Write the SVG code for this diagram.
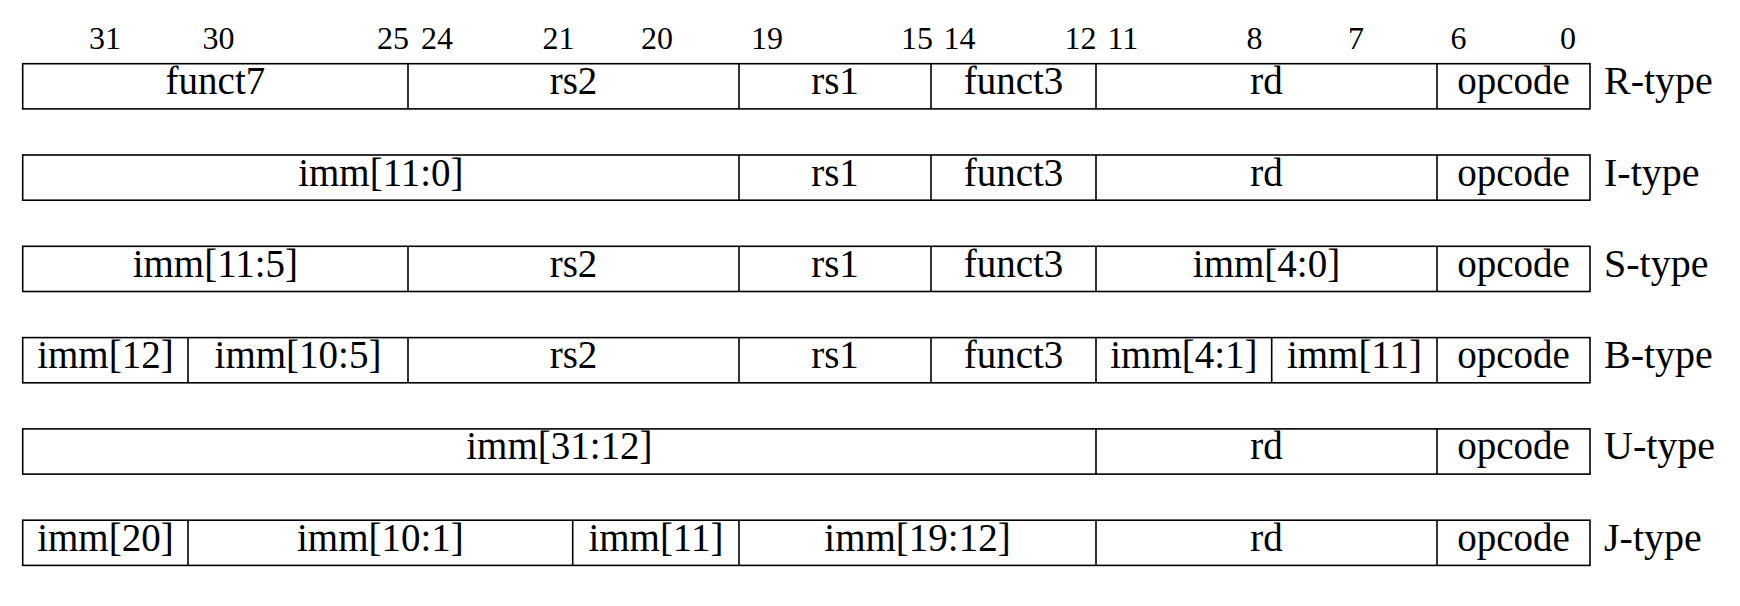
<svg xmlns="http://www.w3.org/2000/svg" width="1740" height="606" viewBox="0 0 1740 606" font-family="Liberation Serif, Times New Roman, serif">
<style>
  .box { fill: #ffffff; stroke: #000000; stroke-width: 1.6; }
  .div { stroke: #000000; stroke-width: 1.6; }
  .f { font-size: 39px; fill: #000000; text-anchor: middle; }
  .t { font-size: 40px; fill: #000000; text-anchor: start; }
  .b { font-size: 32px; fill: #000000; }
  .s { text-anchor: start; }
  .e { text-anchor: end; }
  .m { text-anchor: middle; }
</style>
<rect x="0" y="0" width="1740" height="606" fill="#ffffff"/>

<g id="bit-labels" font-family="Liberation Serif, serif">
  <text class="b m" x="105" y="49.3">31</text>
  <text class="b s" x="202.5" y="49.3">30</text>
  <text class="b e" x="409" y="49.3">25</text>
  <text class="b s" x="421" y="49.3">24</text>
  <text class="b e" x="574.5" y="49.3">21</text>
  <text class="b m" x="657" y="49.3">20</text>
  <text class="b s" x="751" y="49.3">19</text>
  <text class="b e" x="933" y="49.3">15</text>
  <text class="b s" x="943.5" y="49.3">14</text>
  <text class="b e" x="1096.5" y="49.3">12</text>
  <text class="b s" x="1107.5" y="49.3">11</text>
  <text class="b e" x="1262.5" y="49.3">8</text>
  <text class="b m" x="1356" y="49.3">7</text>
  <text class="b s" x="1450.5" y="49.3">6</text>
  <text class="b e" x="1576" y="49.3">0</text>
</g>

<g id="r-type" font-family="Liberation Serif, serif">
  <rect class="box" x="22.7" y="63.7" width="1567.3" height="45.2"/>
  <line class="div" x1="408" y1="63.7" x2="408" y2="108.9"/>
  <line class="div" x1="739" y1="63.7" x2="739" y2="108.9"/>
  <line class="div" x1="931" y1="63.7" x2="931" y2="108.9"/>
  <line class="div" x1="1096" y1="63.7" x2="1096" y2="108.9"/>
  <line class="div" x1="1437" y1="63.7" x2="1437" y2="108.9"/>
  <text class="f" x="215.4" y="94.2">funct7</text>
  <text class="f" x="573.5" y="94.2">rs2</text>
  <text class="f" x="835" y="94.2">rs1</text>
  <text class="f" x="1013.5" y="94.2">funct3</text>
  <text class="f" x="1266.5" y="94.2">rd</text>
  <text class="f" x="1513.5" y="94.2">opcode</text>
  <text class="t" x="1604" y="94.2">R-type</text>
</g>

<g id="i-type" font-family="Liberation Serif, serif">
  <rect class="box" x="22.7" y="155" width="1567.3" height="45.2"/>
  <line class="div" x1="739" y1="155" x2="739" y2="200.2"/>
  <line class="div" x1="931" y1="155" x2="931" y2="200.2"/>
  <line class="div" x1="1096" y1="155" x2="1096" y2="200.2"/>
  <line class="div" x1="1437" y1="155" x2="1437" y2="200.2"/>
  <text class="f" x="380.9" y="185.5">imm[11:0]</text>
  <text class="f" x="835" y="185.5">rs1</text>
  <text class="f" x="1013.5" y="185.5">funct3</text>
  <text class="f" x="1266.5" y="185.5">rd</text>
  <text class="f" x="1513.5" y="185.5">opcode</text>
  <text class="t" x="1604" y="185.5">I-type</text>
</g>

<g id="s-type" font-family="Liberation Serif, serif">
  <rect class="box" x="22.7" y="246.3" width="1567.3" height="45.2"/>
  <line class="div" x1="408" y1="246.3" x2="408" y2="291.5"/>
  <line class="div" x1="739" y1="246.3" x2="739" y2="291.5"/>
  <line class="div" x1="931" y1="246.3" x2="931" y2="291.5"/>
  <line class="div" x1="1096" y1="246.3" x2="1096" y2="291.5"/>
  <line class="div" x1="1437" y1="246.3" x2="1437" y2="291.5"/>
  <text class="f" x="215.4" y="276.8">imm[11:5]</text>
  <text class="f" x="573.5" y="276.8">rs2</text>
  <text class="f" x="835" y="276.8">rs1</text>
  <text class="f" x="1013.5" y="276.8">funct3</text>
  <text class="f" x="1266.5" y="276.8">imm[4:0]</text>
  <text class="f" x="1513.5" y="276.8">opcode</text>
  <text class="t" x="1604" y="276.8">S-type</text>
</g>

<g id="b-type" font-family="Liberation Serif, serif">
  <rect class="box" x="22.7" y="337.6" width="1567.3" height="45.2"/>
  <line class="div" x1="188" y1="337.6" x2="188" y2="382.8"/>
  <line class="div" x1="408" y1="337.6" x2="408" y2="382.8"/>
  <line class="div" x1="739" y1="337.6" x2="739" y2="382.8"/>
  <line class="div" x1="931" y1="337.6" x2="931" y2="382.8"/>
  <line class="div" x1="1096" y1="337.6" x2="1096" y2="382.8"/>
  <line class="div" x1="1271.7" y1="337.6" x2="1271.7" y2="382.8"/>
  <line class="div" x1="1437" y1="337.6" x2="1437" y2="382.8"/>
  <text class="f" x="105.4" y="368.1">imm[12]</text>
  <text class="f" x="298" y="368.1">imm[10:5]</text>
  <text class="f" x="573.5" y="368.1">rs2</text>
  <text class="f" x="835" y="368.1">rs1</text>
  <text class="f" x="1013.5" y="368.1">funct3</text>
  <text class="f" x="1183.9" y="368.1">imm[4:1]</text>
  <text class="f" x="1354.4" y="368.1">imm[11]</text>
  <text class="f" x="1513.5" y="368.1">opcode</text>
  <text class="t" x="1604" y="368.1">B-type</text>
</g>

<g id="u-type" font-family="Liberation Serif, serif">
  <rect class="box" x="22.7" y="428.9" width="1567.3" height="45.2"/>
  <line class="div" x1="1096" y1="428.9" x2="1096" y2="474.1"/>
  <line class="div" x1="1437" y1="428.9" x2="1437" y2="474.1"/>
  <text class="f" x="559.4" y="459.4">imm[31:12]</text>
  <text class="f" x="1266.5" y="459.4">rd</text>
  <text class="f" x="1513.5" y="459.4">opcode</text>
  <text class="t" x="1604" y="459.4">U-type</text>
</g>

<g id="j-type" font-family="Liberation Serif, serif">
  <rect class="box" x="22.7" y="520.2" width="1567.3" height="45.2"/>
  <line class="div" x1="188" y1="520.2" x2="188" y2="565.4"/>
  <line class="div" x1="572.7" y1="520.2" x2="572.7" y2="565.4"/>
  <line class="div" x1="739" y1="520.2" x2="739" y2="565.4"/>
  <line class="div" x1="1096" y1="520.2" x2="1096" y2="565.4"/>
  <line class="div" x1="1437" y1="520.2" x2="1437" y2="565.4"/>
  <text class="f" x="105.4" y="550.7">imm[20]</text>
  <text class="f" x="380.4" y="550.7">imm[10:1]</text>
  <text class="f" x="655.9" y="550.7">imm[11]</text>
  <text class="f" x="917.5" y="550.7">imm[19:12]</text>
  <text class="f" x="1266.5" y="550.7">rd</text>
  <text class="f" x="1513.5" y="550.7">opcode</text>
  <text class="t" x="1604" y="550.7">J-type</text>
</g>

<g id="connectors"></g>
</svg>
